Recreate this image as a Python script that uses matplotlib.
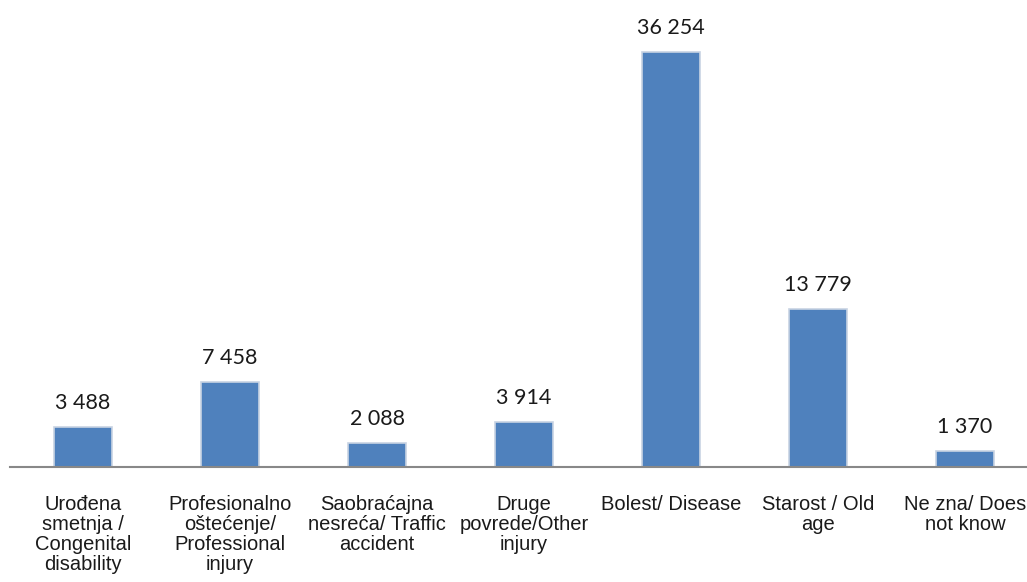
import matplotlib
matplotlib.use('Agg')
import matplotlib.pyplot as plt

# podaci
categories = ['Urođena\nsmetnja /\nCongenital\ndisability',
              'Profesionalno\noštećenje/\nProfessional\ninjury',
              'Saobraćajna\nnesreća/ Traffic\naccident',
              'Druge\npovrede/Other\ninjury',
              'Bolest/ Disease',
              'Starost / Old\nage',
              'Ne zna/ Does\nnot know']
values = [3488, 7458, 2088, 3914, 36254, 13779, 1370]

W, H = 1027, 582
fig = plt.figure(figsize=(W / 100, H / 100), dpi=100)

# osa: linija na y=467px, kategorije po 147px
base_px = 467
left_px = 9.5
step_px = 147
ax = fig.add_axes([left_px / W, (H - base_px) / H,
                   step_px * len(values) / W, base_px / H])

x = range(len(values))
ax.bar(x, values, width=0.39, color='#4F81BD', edgecolor='#C8D3E3',
       linewidth=1.2, zorder=2)

ax.set_xlim(-0.5, len(values) - 0.5)
ax.set_ylim(0, max(values) * base_px / 415)

for i, v in enumerate(values):
    label = f'{v:,}'.replace(',', ' ')
    ax.annotate(label, (i, v), xytext=(0, 13), textcoords='offset points',
                ha='center', va='baseline', fontsize=15.5, family='Lato',
                color='#1a1a1a')

ax.set_xticks(list(x))
ax.set_xticklabels(categories, fontsize=14.5, family='Liberation Sans',
                   color='#1a1a1a', linespacing=1.06)
ax.tick_params(axis='x', length=0, pad=20.5)
ax.set_yticks([])

for s in ['top', 'right', 'left']:
    ax.spines[s].set_visible(False)
ax.spines['bottom'].set_color('#888888')
ax.spines['bottom'].set_linewidth(1.5)

fig.savefig('out.png', dpi=100)
